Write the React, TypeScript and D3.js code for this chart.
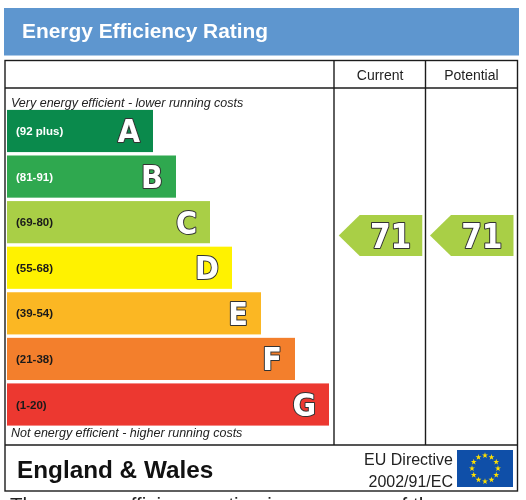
import React from "react";
import * as d3 from "d3";

const letters = ["A", "B", "C", "D", "E", "F", "G"];
const ranges = ["(92 plus)", "(81-91)", "(69-80)", "(55-68)", "(39-54)", "(21-38)", "(1-20)"];
const barLengths = [146, 169, 203, 225, 254, 288, 322];
const barColors = ["#0a8a4c", "#2fa84f", "#a9cf46", "#fff200", "#fbb723", "#f37f2c", "#ec3830"];
const rangeColors = ["#ffffff", "#ffffff", "#1a1a1a", "#1a1a1a", "#1a1a1a", "#1a1a1a", "#1a1a1a"];
const columns = ["Current", "Potential"];
const ratings = [71, 71];
const starAngles = d3.range(12);

const SANS = "Liberation Sans, Arial, sans-serif";
const HEAVY = "DejaVu Sans Condensed, DejaVu Sans, sans-serif";

export default function App() {
  const yBand = d3.scaleBand<string>().domain(letters).range([109, 426.5]).paddingInner(0.075).paddingOuter(0.02);
  const xBar = d3.scaleLinear().domain([0, 322]).range([7, 329]);
  const xCol = d3.scaleBand<string>().domain(columns).range([334, 516.5]);
  const yRating = d3.scaleLinear().domain([0, 100]).range([445, 150]);
  const pointer = d3.line<[number, number]>();
  const ink = "#1c1c1c";
  return (
    <svg width={526} height={500} style={{ position: "absolute", left: 0, top: 0, filter: "blur(0.45px)" }} fontFamily={SANS}>
      <rect width={526} height={500} fill="#fff" />
      <rect x={4} y={8} width={515} height={47.5} fill="#5e96cf" />
      <text x={22} y={37.5} fontSize={20.9} fontWeight={700} fill="#fff">Energy Efficiency Rating</text>

      <rect x={5} y={60.5} width={512.5} height={430.5} fill="none" stroke={ink} strokeWidth={1.4} />
      <line x1={5} x2={517.5} y1={88} y2={88} stroke={ink} strokeWidth={1.4} />
      <line x1={5} x2={517.5} y1={445} y2={445} stroke={ink} strokeWidth={1.4} />
      <line x1={334} x2={334} y1={60.5} y2={445} stroke={ink} strokeWidth={1.4} />
      <line x1={425.5} x2={425.5} y1={60.5} y2={445} stroke={ink} strokeWidth={1.4} />

      {columns.map((c) => (
        <text key={c} x={xCol(c)! + xCol.bandwidth() / 2 + 0.5} y={80} textAnchor="middle" fontSize={14} fill="#222">{c}</text>
      ))}

      <text x={11} y={107} fontSize={12.5} fontStyle="italic" fill="#222">Very energy efficient - lower running costs</text>
      <text x={11} y={437} fontSize={12.5} fontStyle="italic" fill="#222">Not energy efficient - higher running costs</text>

      {letters.map((l, i) => {
        const y = yBand(l)!;
        const h = yBand.bandwidth();
        const xEnd = xBar(barLengths[i]);
        return (
          <g key={l}>
            <rect x={xBar(0)} y={y} width={xEnd - xBar(0)} height={h} fill={barColors[i]} />
            <text x={16} y={y + h / 2 + 4} fontSize={11.5} fontWeight={700} fill={rangeColors[i]}>{ranges[i]}</text>
            <text x={xEnd - 13} y={y + h / 2 + 11.5} textAnchor="end" fontSize={32} fontWeight={700} fontFamily={HEAVY}
              fill="#fff" stroke="#333" strokeWidth={2} strokeLinejoin="round"
              style={{ paintOrder: "stroke" }}>{l}</text>
          </g>
        );
      })}

      {columns.map((c, i) => {
        const cy = yRating(ratings[i]);
        const right = xCol(c)! + xCol.bandwidth() - 3;
        const left = right - 83.5;
        const half = 20.5;
        const shoulder = left + 21;
        return (
          <g key={c}>
            <path d={pointer([[left, cy], [shoulder, cy - half], [right, cy - half], [right, cy + half], [shoulder, cy + half]])! + "Z"} fill="#a9cf46" />
            <text x={right - 11} y={cy + 12} textAnchor="end" fontSize={33} fontWeight={700} fontFamily={HEAVY}
              fill="#fff" stroke="#333" strokeWidth={2} strokeLinejoin="round" style={{ paintOrder: "stroke" }}>{ratings[i]}</text>
          </g>
        );
      })}

      <text x={17} y={478} fontSize={24.3} fontWeight={700} fill="#111">England &amp; Wales</text>
      <text x={453} y={465} textAnchor="end" fontSize={16} fill="#222">EU Directive</text>
      <text x={453} y={487} textAnchor="end" fontSize={16} fill="#222">2002/91/EC</text>

      <rect x={457} y={450} width={56} height={37} fill="#0f4fa8" />
      {starAngles.map((k) => {
        const a = (k / 12) * 2 * Math.PI;
        const star = d3.symbol(d3.symbolStar, 11)()!;
        return <path key={k} d={star} fill="#ffe100" transform={`translate(${485 + 13 * Math.sin(a)},${468.5 - 13 * Math.cos(a)})`} />;
      })}

      <text x={10} y={512} fontSize={20.5} fill="#222">The energy efficiency rating is a measure of the</text>
    </svg>
  );
}
